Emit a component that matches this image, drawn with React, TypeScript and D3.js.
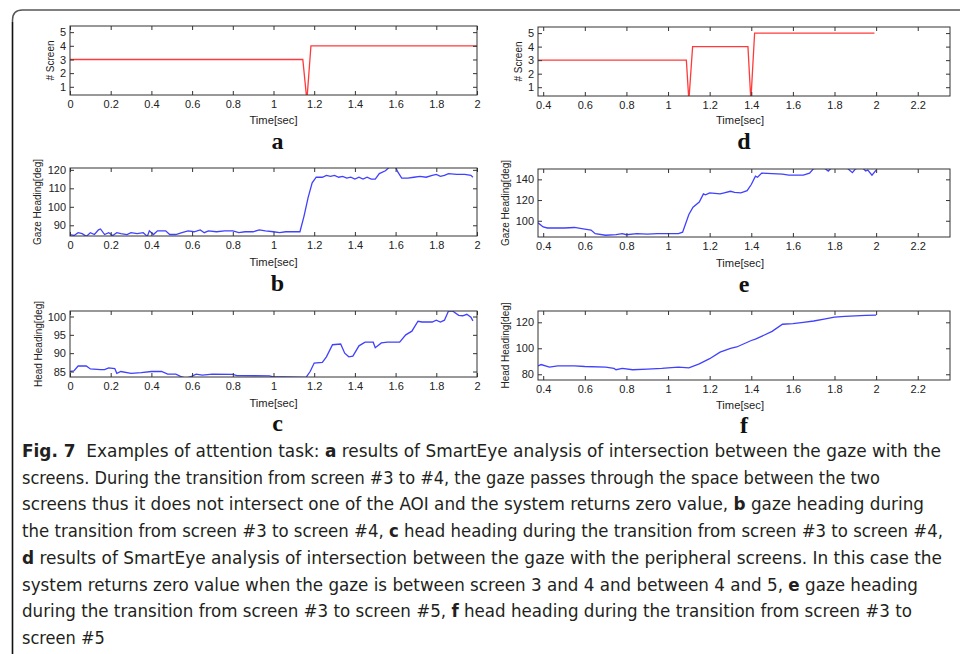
import React, { useEffect, useRef } from 'react'
import * as d3 from 'd3'

// tick values
const timeTicksLeft = [0, 0.2, 0.4, 0.6, 0.8, 1, 1.2, 1.4, 1.6, 1.8, 2]
const timeTicksRight = [0.4, 0.6, 0.8, 1, 1.2, 1.4, 1.6, 1.8, 2, 2.2]
const screenTicks = [1, 2, 3, 4, 5]
const gazeTicksB = [90, 100, 110, 120]
const gazeTicksE = [100, 120, 140]
const headTicksC = [85, 90, 95, 100]
const headTicksF = [80, 100, 120]

// (a) screen index, 3 -> 4
const screenA: [number, number][] = [
  [0, 3], [1.144, 3], [1.164, 0], [1.184, 4], [2, 4]
]

// (d) screen index, 3 -> 4 -> 5
const screenD: [number, number][] = [
  [0.375, 3], [1.088, 3], [1.1, 0], [1.118, 4], [1.384, 4], [1.398, 0], [1.416, 5], [1.992, 5]
]

// (b) gaze heading
const gazeB: [number, number][] = [
  [0, 85], [0.02, 84.5], [0.04, 86], [0.06, 85.5], [0.08, 84], [0.1, 86], [0.12, 85], [0.14, 87.5],
  [0.15, 88], [0.17, 85], [0.19, 86], [0.21, 84.5], [0.23, 86], [0.25, 85.5], [0.28, 85], [0.3, 86],
  [0.33, 85.5], [0.36, 86], [0.38, 84], [0.39, 87], [0.41, 85], [0.43, 87], [0.47, 87], [0.49, 85],
  [0.52, 85], [0.55, 86], [0.58, 87], [0.61, 86.5], [0.64, 87.5], [0.66, 86], [0.68, 87], [0.72, 86.5],
  [0.76, 87], [0.8, 87], [0.83, 86], [0.86, 86.5], [0.9, 86.5], [0.93, 87.5], [0.96, 87], [1.0, 86.5],
  [1.03, 86], [1.06, 86.5], [1.1, 86.5], [1.13, 86.5], [1.15, 95], [1.17, 105], [1.19, 113], [1.21, 116],
  [1.24, 116], [1.26, 117], [1.28, 116.5], [1.3, 117], [1.32, 116], [1.34, 116.5], [1.36, 115.5], [1.38, 116],
  [1.4, 115], [1.42, 116], [1.44, 115], [1.46, 116], [1.48, 115], [1.5, 115], [1.52, 118], [1.55, 119.5],
  [1.57, 121.5], [1.6, 121.5], [1.61, 119], [1.63, 115.5], [1.66, 115.5], [1.69, 116], [1.72, 116.5], [1.75, 116],
  [1.78, 117], [1.8, 117.5], [1.82, 116.5], [1.84, 117], [1.86, 118], [1.9, 117.5], [1.94, 117.5], [1.97, 117],
  [1.98, 116]
]

// (e) gaze heading
const gazeE: [number, number][] = [
  [0.375, 98], [0.4, 94], [0.42, 93], [0.5, 93], [0.55, 93.5], [0.6, 92], [0.63, 91], [0.65, 87.5],
  [0.7, 86], [0.75, 86.5], [0.78, 87.5], [0.8, 86.5], [0.85, 87.5], [0.9, 87], [0.95, 87.5], [1.0, 87.5],
  [1.05, 87.5], [1.07, 89], [1.1, 106], [1.12, 113], [1.15, 118], [1.17, 126], [1.18, 125], [1.2, 127],
  [1.25, 126], [1.27, 127], [1.3, 128.5], [1.32, 127.5], [1.35, 127], [1.38, 129], [1.4, 135], [1.42, 143],
  [1.43, 142], [1.45, 146], [1.5, 145.5], [1.55, 145], [1.58, 144], [1.6, 144], [1.65, 144], [1.68, 146],
  [1.7, 150.5], [1.75, 151], [1.77, 148], [1.79, 152], [1.86, 151], [1.886, 146.5], [1.9, 150], [1.93, 152],
  [1.95, 148], [1.96, 149], [1.98, 144], [2.0, 149]
]

// (c) head heading
const headC: [number, number][] = [
  [0, 85], [0.02, 85.2], [0.04, 86.5], [0.08, 86.5], [0.1, 85.7], [0.15, 85.5], [0.17, 85.5], [0.19, 86],
  [0.22, 85.8], [0.23, 84.5], [0.25, 85], [0.3, 84.5], [0.35, 84.7], [0.4, 85], [0.45, 85], [0.48, 84.3],
  [0.52, 84.3], [0.55, 83.5], [0.57, 83.2], [0.59, 83.5], [0.62, 84.3], [0.65, 84], [0.7, 84.3], [0.8, 84.2],
  [0.82, 83.9], [0.98, 83.8], [1.0, 83.5], [1.05, 83.5], [1.16, 83.4], [1.18, 85], [1.2, 87.3], [1.24, 87.5],
  [1.26, 89], [1.29, 92.3], [1.33, 92.5], [1.35, 90], [1.37, 89], [1.39, 89.2], [1.42, 92], [1.45, 93],
  [1.49, 93], [1.5, 91.5], [1.53, 92.8], [1.56, 93], [1.62, 93], [1.65, 95], [1.68, 96], [1.71, 98.7],
  [1.73, 98.5], [1.78, 98.5], [1.8, 99], [1.82, 98.5], [1.84, 99], [1.86, 101.5], [1.88, 101.5], [1.91, 100.3],
  [1.93, 100.2], [1.95, 100.6], [1.97, 99.8], [1.98, 98.8]
]

// (f) head heading
const headF: [number, number][] = [
  [0.375, 86.5], [0.39, 87.5], [0.43, 85.5], [0.47, 86.5], [0.55, 86.5], [0.6, 86], [0.7, 85.5], [0.74, 84.5],
  [0.75, 83.5], [0.78, 84.5], [0.83, 83.5], [0.9, 84], [0.97, 84.5], [1.0, 85], [1.05, 85.5], [1.1, 85],
  [1.15, 88], [1.2, 92], [1.25, 97], [1.3, 100], [1.33, 101], [1.4, 106], [1.42, 107], [1.5, 113],
  [1.55, 118.5], [1.6, 119], [1.65, 120], [1.7, 121], [1.75, 122.5], [1.8, 124], [1.85, 124.5], [1.9, 125],
  [1.95, 125.3], [2.0, 125.5]
]

const captionLines = [
  [['Fig. 7', true], ['  Examples of attention task: ', false], ['a', true], [' results of SmartEye analysis of intersection between the gaze with the', false]],
  [['screens. During the transition from screen #3 to #4, the gaze passes through the space between the two', false]],
  [['screens thus it does not intersect one of the AOI and the system returns zero value, ', false], ['b', true], [' gaze heading during', false]],
  [['the transition from screen #3 to screen #4, ', false], ['c', true], [' head heading during the transition from screen #3 to screen #4,', false]],
  [['d', true], [' results of SmartEye analysis of intersection between the gaze with the peripheral screens. In this case the', false]],
  [['system returns zero value when the gaze is between screen 3 and 4 and between 4 and 5, ', false], ['e', true], [' gaze heading', false]],
  [['during the transition from screen #3 to screen #5, ', false], ['f', true], [' head heading during the transition from screen #3 to', false]],
  [['screen #5', false]]
] as [string, boolean][][]
const captionEnds = [941, 880, 924, 943, 942, 918, 912, 0]

const SANS = "'Liberation Sans', Arial, Helvetica, sans-serif"

export default function App() {
  const ref = useRef<SVGSVGElement>(null)

  useEffect(() => {
    const svg = d3.select(ref.current)
    svg.selectAll('*').remove()

    // frame
    svg.append('path')
      .attr('d', 'M12.5,654 L12.5,20 Q12.5,10 22.5,10 L960,10')
      .attr('fill', 'none').attr('stroke', '#555').attr('stroke-width', 1.5)
    svg.append('line')
      .attr('x1', 12.5).attr('x2', 12.5).attr('y1', 22).attr('y2', 654)
      .attr('stroke', '#111').attr('stroke-width', 1.3)

    const panels = [
      { id: 'a', data: screenA, color: '#ff3a3a', xr: [70, 477], yr: [95, 26], xd: [0, 2], yd: [0.4, 5.45], xt: timeTicksLeft, yt: screenTicks, yl: '# Screen', ylx: 50, lab: [120, 149] },
      { id: 'd', data: screenD, color: '#ff3a3a', xr: [538, 950], yr: [96, 27], xd: [0.375, 2.355], yd: [0.35, 5.45], xt: timeTicksRight, yt: screenTicks, yl: '# Screen', ylx: 518, lab: [120, 149] },
      { id: 'b', data: gazeB, color: '#4040ff', xr: [70, 477], yr: [236, 168], xd: [0, 2], yd: [84.2, 121], xt: timeTicksLeft, yt: gazeTicksB, yl: 'Gaze Heading[deg]', ylx: 37, lab: [262, 291] },
      { id: 'e', data: gazeE, color: '#4040ff', xr: [538, 950], yr: [237, 169], xd: [0.375, 2.355], yd: [84.3, 150], xt: timeTicksRight, yt: gazeTicksE, yl: 'Gaze Heading[deg]', ylx: 505, lab: [263, 292] },
      { id: 'c', data: headC, color: '#4040ff', xr: [70, 477], yr: [377, 311], xd: [0, 2], yd: [83.5, 101.5], xt: timeTicksLeft, yt: headTicksC, yl: 'Head Heading[deg]', ylx: 38, lab: [403, 431] },
      { id: 'f', data: headF, color: '#4040ff', xr: [538, 950], yr: [380, 311], xd: [0.375, 2.355], yd: [75.6, 128.7], xt: timeTicksRight, yt: headTicksF, yl: 'Head Heading[deg]', ylx: 505, lab: [405, 433] }
    ]

    const fmt = (d: number) => String(+d.toFixed(1))

    panels.forEach(p => {
      const x = d3.scaleLinear().domain(p.xd).range(p.xr)
      const y = d3.scaleLinear().domain(p.yd).range(p.yr)
      const g = svg.append('g')

      g.append('clipPath').attr('id', 'clip-' + p.id)
        .append('rect')
        .attr('x', p.xr[0]).attr('y', p.yr[1])
        .attr('width', p.xr[1] - p.xr[0]).attr('height', p.yr[0] - p.yr[1])

      const line = d3.line<[number, number]>()
        .x(d => x(d[0]))
        .y(d => y(d[1]))

      g.append('path')
        .datum(p.data)
        .attr('clip-path', `url(#clip-${p.id})`)
        .attr('fill', 'none')
        .attr('stroke', p.color)
        .attr('stroke-width', 1.3)
        .attr('d', line)

      // axes, matlab style: ticks inward on all sides
      const ax = (gen: any, tx: number, ty: number) => g.append('g')
        .attr('transform', `translate(${tx},${ty})`)
        .call(gen)
        .call((s: any) => s.select('.domain').remove())
        .call((s: any) => s.selectAll('line').attr('stroke', '#333'))
        .call((s: any) => s.selectAll('text').attr('fill', '#222')
          .attr('font-family', SANS).attr('font-size', 11))

      ax(d3.axisBottom(x).tickValues(p.xt).tickFormat(fmt as any).tickSizeInner(-4).tickPadding(5), 0, p.yr[0])
      ax(d3.axisTop(x).tickValues(p.xt).tickFormat(() => '').tickSizeInner(-4), 0, p.yr[1])
      ax(d3.axisLeft(y).tickValues(p.yt).tickFormat(fmt as any).tickSizeInner(-4).tickPadding(4), p.xr[0], 0)
      ax(d3.axisRight(y).tickValues(p.yt).tickFormat(() => '').tickSizeInner(-4), p.xr[1], 0)

      g.append('rect')
        .attr('x', p.xr[0]).attr('y', p.yr[1])
        .attr('width', p.xr[1] - p.xr[0]).attr('height', p.yr[0] - p.yr[1])
        .attr('fill', 'none').attr('stroke', '#333').attr('stroke-width', 1)

      g.append('text')
        .attr('transform', `translate(${p.ylx},${(p.yr[0] + p.yr[1]) / 2}) rotate(-90)`)
        .attr('text-anchor', 'middle').attr('dy', '0.35em')
        .attr('font-family', SANS).attr('font-size', 10)
        .attr('fill', '#222')
        .text(p.yl)

      const cx = (p.xr[0] + p.xr[1]) / 2 - (p.xr[0] === 70 ? 0 : 4)
      g.append('text')
        .attr('x', cx).attr('y', p.lab[0]).attr('dy', '0.35em')
        .attr('text-anchor', 'middle')
        .attr('font-family', SANS).attr('font-size', 11.2)
        .attr('fill', '#222')
        .text('Time[sec]')

      g.append('text')
        .attr('x', cx + 4).attr('y', p.lab[1])
        .attr('text-anchor', 'middle')
        .attr('font-family', "'Liberation Serif', 'Times New Roman', serif").attr('font-weight', 'bold').attr('font-size', 24)
        .attr('fill', '#111')
        .text(p.id)
    })

    // caption
    captionLines.forEach((parts, i) => {
      const t = svg.append('text')
        .attr('x', 22).attr('y', 457 + i * 26.7)
        .attr('font-family', "'Liberation Sans Narrow', 'DejaVu Sans Condensed', Roboto, sans-serif")
        .attr('font-size', 18)
        .attr('fill', '#231f20')
        .attr('xml:space', 'preserve')
      if (captionEnds[i] > 0) {
        t.attr('textLength', captionEnds[i] - 22).attr('lengthAdjust', 'spacingAndGlyphs')
      }
      parts.forEach(([s, b]) => {
        t.append('tspan').attr('font-weight', b ? 'bold' : 'normal').text(s)
      })
    })
  }, [])

  return (
    <svg ref={ref} width={960} height={654}
      style={{ position: 'absolute', left: 0, top: 0, background: '#fff' }} />
  )
}
